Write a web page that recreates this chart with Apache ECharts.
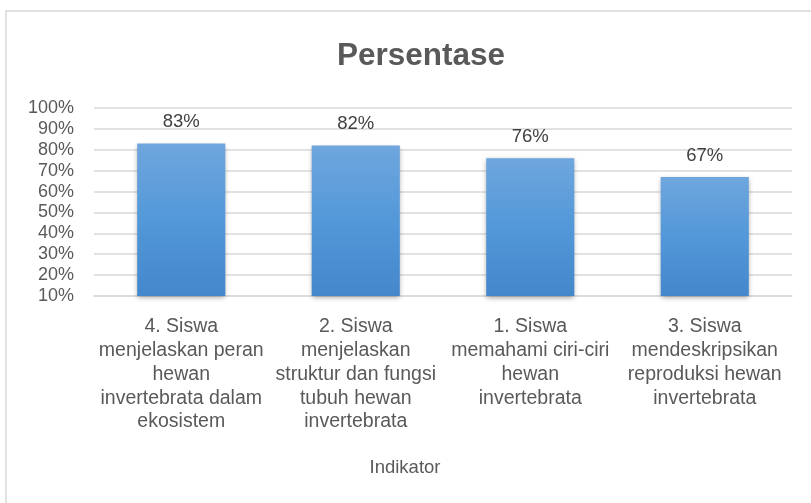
<!DOCTYPE html>
<html><head><meta charset="utf-8">
<script src="https://cdn.jsdelivr.net/npm/echarts@6/dist/echarts.min.js"></script>
<style>html,body{margin:0;padding:0;background:#fff}#c{width:811px;height:503px}</style>
</head><body><div id="c"></div>
<script>
var titleText = 'Persentase';
var axisName = 'Indikator';
var categories = [
  '4. Siswa\nmenjelaskan peran\nhewan\ninvertebrata dalam\nekosistem',
  '2. Siswa\nmenjelaskan\nstruktur dan fungsi\ntubuh hewan\ninvertebrata',
  '1. Siswa\nmemahami ciri-ciri\nhewan\ninvertebrata',
  '3. Siswa\nmendeskripsikan\nreproduksi hewan\ninvertebrata'
];
var values = [83, 82, 76, 67];
var yMin = 10, yMax = 100, yStep = 10;

var chart = echarts.init(document.getElementById('c'), null, {renderer: 'canvas'});
var font = 'Liberation Sans, Arial, sans-serif';
chart.setOption({
  backgroundColor: '#fff',
  animation: false,
  graphic: [{
    type: 'rect', z: -1,
    shape: {x: 6, y: 11, width: 900, height: 600},
    style: {fill: '#fff', stroke: '#d9d9d9', lineWidth: 1.5}
  }],
  title: {
    text: titleText, left: 332, top: 35,
    textStyle: {fontFamily: font, fontSize: 31.5, fontWeight: 'bold', color: '#595959'}
  },
  grid: {left: 94, right: 19, top: 108, bottom: 207, containLabel: false},
  xAxis: {
    type: 'category', data: categories,
    name: axisName, nameLocation: 'middle', nameGap: 162,
    nameTextStyle: {fontFamily: font, fontSize: 18.5, color: '#595959', padding: [0, 76, 0, 0]},
    axisLine: {show: true, lineStyle: {color: '#d9d9d9', width: 1.5}},
    axisTick: {show: false},
    axisLabel: {interval: 0, margin: 19, fontFamily: font, fontSize: 19.5, lineHeight: 23.8, color: '#595959', align: 'center'}
  },
  yAxis: {
    type: 'value', min: yMin, max: yMax, interval: yStep,
    axisLine: {show: false}, axisTick: {show: false},
    axisLabel: {formatter: '{value}%', margin: 20, fontFamily: font, fontSize: 18, color: '#595959'},
    splitLine: {lineStyle: {color: '#d9d9d9', width: 1.5}}
  },
  series: [{
    type: 'bar', data: values, barWidth: '50.5%',
    itemStyle: {
      color: new echarts.graphic.LinearGradient(0, 0, 0, 1, [
        {offset: 0, color: '#6fa6dd'},
        {offset: 0.5, color: '#5398d9'},
        {offset: 1, color: '#4487cb'}
      ]),
      shadowColor: 'rgba(0,0,0,0.35)', shadowBlur: 5, shadowOffsetY: 2
    },
    label: {show: true, position: 'top', distance: 12, formatter: '{c}%', fontFamily: font, fontSize: 18.5, color: '#404040'}
  }]
});
</script></body></html>
